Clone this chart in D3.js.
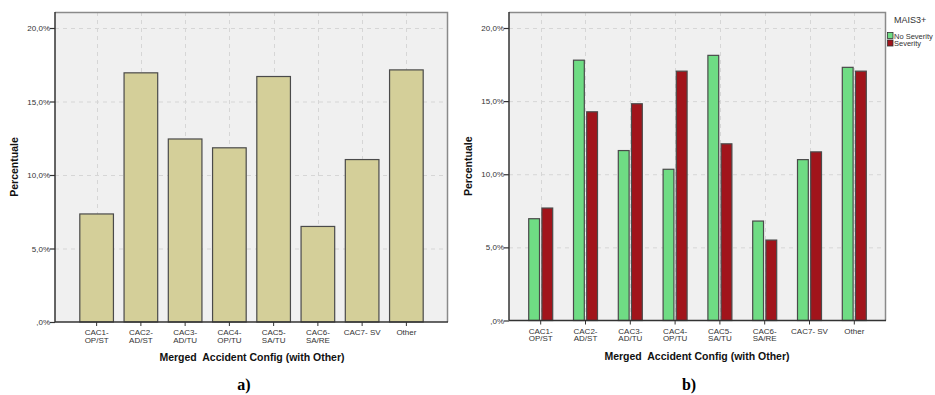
<!DOCTYPE html>
<html>
<head>
<meta charset="utf-8">
<script src="https://cdn.jsdelivr.net/npm/d3@7"></script>
<style>
  html, body { margin: 0; padding: 0; background: #ffffff; }
  svg { display: block; }
</style>
</head>
<body>
<svg id="chart" width="935" height="395"></svg>
<script>
// Accident configuration categories (two-line tick labels)
const categories = ["CAC1-\nOP/ST", "CAC2-\nAD/ST", "CAC3-\nAD/TU", "CAC4-\nOP/TU",
                    "CAC5-\nSA/TU", "CAC6-\nSA/RE", "CAC7- SV", "Other"];
// Panel a) overall percentage per configuration
const overallPct = [7.35, 16.95, 12.45, 11.85, 16.7, 6.5, 11.05, 17.15];
// Panel b) percentage per configuration, split by MAIS3+
const seriesNames = ["No Severity", "Severity"];
const noSeverityPct = [6.96, 17.8, 11.62, 10.34, 18.13, 6.8, 11.0, 17.31];
const severityPct = [7.69, 14.27, 14.82, 17.05, 12.08, 5.5, 11.53, 17.05];
const yTicks = [0, 5, 10, 15, 20];
const yTickLabels = [",0%", "5,0%", "10,0%", "15,0%", "20,0%"];
const yTitle = "Percentuale";
const xTitle = "Merged  Accident Config (with Other)";
const legendTitle = "MAIS3+";
const panelLabels = ["a)", "b)"];

const svg = d3.select("#chart");
const tickFont = "Arial, 'Liberation Sans', sans-serif";

function drawPanel(opts) {
  const g = svg.append("g");
  const { left, right, top, zero, twenty } = opts;
  const y = d3.scaleLinear().domain([0, 20]).range([zero, twenty]);
  const x = d3.scaleBand().domain(categories).range([opts.bandStart, opts.bandEnd]).padding(0);

  // plot background
  g.append("rect").attr("x", left).attr("y", top)
    .attr("width", right - left).attr("height", zero - top)
    .attr("fill", "#f0f0f0");

  // dashed gridlines
  g.selectAll(".hgrid").data(yTicks.filter(d => d > 0)).enter().append("line")
    .attr("x1", left).attr("x2", right)
    .attr("y1", d => y(d) + 0.5).attr("y2", d => y(d) + 0.5)
    .attr("stroke", "#d6d6d6").attr("stroke-dasharray", "4,4");
  g.selectAll(".vgrid").data(categories).enter().append("line")
    .attr("x1", d => Math.round(x(d) + x.bandwidth() / 2) + 0.5)
    .attr("x2", d => Math.round(x(d) + x.bandwidth() / 2) + 0.5)
    .attr("y1", top).attr("y2", zero)
    .attr("stroke", "#d6d6d6").attr("stroke-dasharray", "4,4");

  // frame: top and right in grey
  g.append("path")
    .attr("d", `M${left},${top + 0.5}H${right - 0.5}V${zero}`)
    .attr("fill", "none").attr("stroke", "#8a8a8a").attr("stroke-width", 1.5);

  opts.drawBars(g, x, y);

  // y axis
  const yAxis = g.append("g").attr("transform", `translate(${left},0)`)
    .call(d3.axisLeft(y).tickValues(yTicks).tickSize(5).tickSizeOuter(0)
      .tickFormat((d, i) => yTickLabels[i]));
  yAxis.select(".domain").attr("stroke", "#333").attr("stroke-width", 1.5)
    .attr("d", `M0,${top}V${zero}`);
  yAxis.selectAll(".tick line").attr("stroke", "#333").attr("stroke-width", 1.2);
  yAxis.selectAll(".tick text").attr("font-family", tickFont).attr("font-size", 8)
    .attr("fill", "#333").attr("x", -5);

  // x axis
  const xAxis = g.append("g").attr("transform", `translate(0,${zero})`)
    .call(d3.axisBottom(x).tickSize(4).tickSizeOuter(0).tickFormat(""));
  xAxis.select(".domain").attr("stroke", "#333").attr("stroke-width", 1.5)
    .attr("d", `M${left},0H${right}`);
  xAxis.selectAll(".tick line").attr("stroke", "#333");
  xAxis.selectAll(".tick").each(function (d) {
    const lines = d.split("\n");
    const t = d3.select(this).append("text")
      .attr("font-family", tickFont).attr("font-size", 8).attr("fill", "#333")
      .attr("text-anchor", "middle").attr("y", 13);
    lines.forEach((ln, i) => t.append("tspan").attr("x", 0).attr("dy", i === 0 ? 0 : 7.5).text(ln));
  });

  // axis titles
  g.append("text")
    .attr("transform", `translate(${opts.yTitleX},${(top + zero) / 2}) rotate(-90)`)
    .attr("text-anchor", "middle").attr("font-family", tickFont)
    .attr("font-weight", "bold").attr("font-size", 10.5).attr("fill", "#111")
    .text(yTitle);
  g.append("text")
    .attr("x", opts.xTitleX).attr("y", zero + 39)
    .attr("text-anchor", "middle").attr("font-family", tickFont)
    .attr("font-weight", "bold").attr("font-size", 10.5).attr("fill", "#111")
    .attr("xml:space", "preserve")
    .text(xTitle);

  // panel label
  g.append("text")
    .attr("x", opts.xTitleX - 8).attr("y", 390)
    .attr("text-anchor", "middle")
    .attr("font-family", "'Liberation Serif', 'Times New Roman', serif")
    .attr("font-weight", "bold").attr("font-size", 16).attr("fill", "#000")
    .text(opts.label);
}

// a) single-series bars
drawPanel({
  left: 55, right: 448, top: 12, zero: 322, twenty: 28,
  bandStart: 74.5, bandEnd: 428.5,
  yTitleX: 18, xTitleX: 252, label: panelLabels[0],
  drawBars(g, x, y) {
    const bw = x.bandwidth() * 0.76;
    g.selectAll(".bar").data(overallPct).enter().append("rect")
      .attr("x", (d, i) => x(categories[i]) + (x.bandwidth() - bw) / 2)
      .attr("y", d => y(d))
      .attr("width", bw)
      .attr("height", d => y(0) - y(d))
      .attr("fill", "#d4cf99").attr("stroke", "#4a4a4a").attr("stroke-width", 1.2);
  }
});

// b) grouped bars by MAIS3+
const groupColors = ["#6fdc84", "#a1141b"];
drawPanel({
  left: 509, right: 886, top: 12, zero: 320.5, twenty: 28,
  bandStart: 518.3, bandEnd: 876.7,
  yTitleX: 472, xTitleX: 697, label: panelLabels[1],
  drawBars(g, x, y) {
    const sub = d3.scaleBand().domain(seriesNames).range([-12, 12]).paddingInner(0.18);
    const rows = [noSeverityPct, severityPct];
    seriesNames.forEach((name, s) => {
      g.selectAll(".bar" + s).data(rows[s]).enter().append("rect")
        .attr("x", (d, i) => x(categories[i]) + x.bandwidth() / 2 + sub(name))
        .attr("y", d => y(d))
        .attr("width", sub.bandwidth())
        .attr("height", d => y(0) - y(d))
        .attr("fill", groupColors[s]).attr("stroke", "#4a4a4a").attr("stroke-width", 1.2);
    });
  }
});

// legend for panel b)
const leg = svg.append("g").attr("transform", "translate(887,0)");
leg.append("text").attr("x", 7).attr("y", 23)
  .attr("font-family", tickFont).attr("font-size", 9).attr("fill", "#333")
  .text(legendTitle);
seriesNames.forEach((name, i) => {
  leg.append("rect").attr("x", 0.5).attr("y", 32.5 + i * 7.5)
    .attr("width", 5.5).attr("height", 6)
    .attr("fill", groupColors[i]).attr("stroke", "#333").attr("stroke-width", 0.8);
  leg.append("text").attr("x", 7).attr("y", 38.5 + i * 7.5)
    .attr("font-family", tickFont).attr("font-size", 7.5).attr("fill", "#333")
    .text(name);
});
</script>
</body>
</html>
